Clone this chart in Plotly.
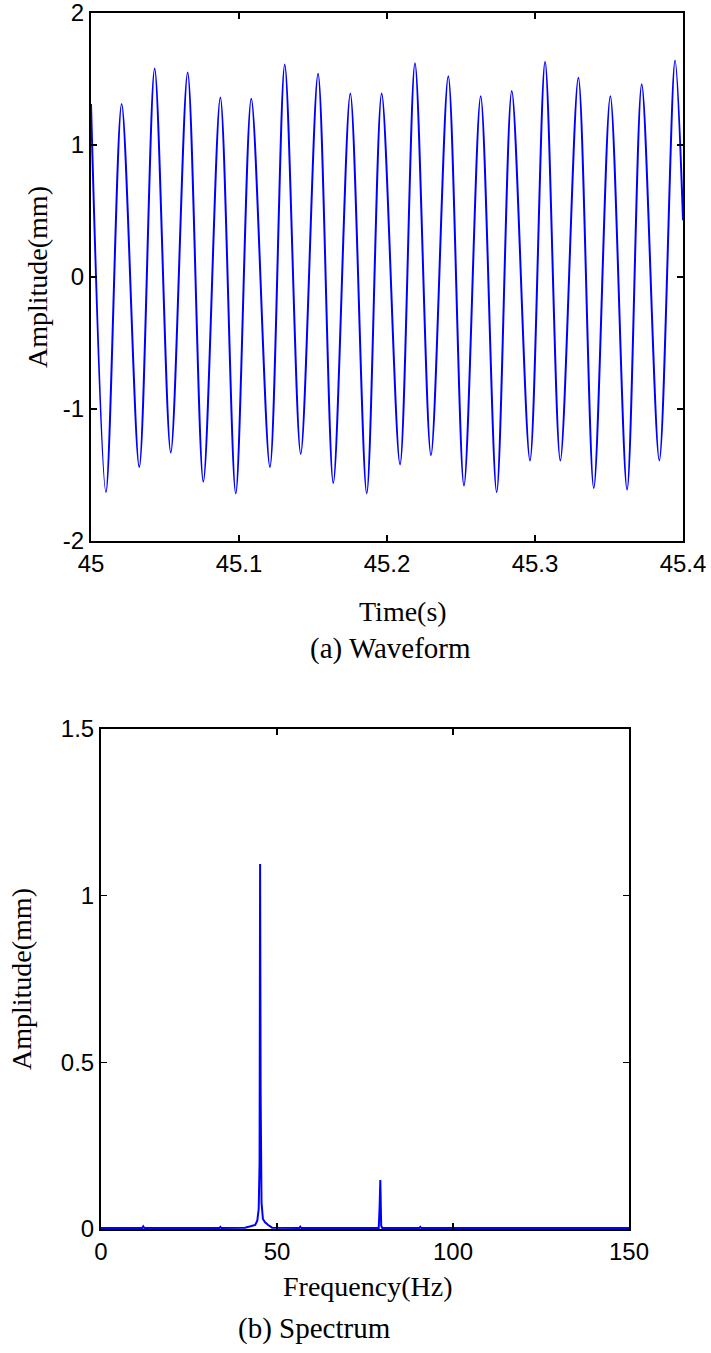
import plotly.graph_objects as go

# ---------------- data ----------------
# (a) Waveform: extrema (time s, amplitude mm)
wave_t = [45.0000, 45.0101, 45.0207, 45.0326, 45.0430, 45.0539, 45.0653, 45.0759,
          45.0874, 45.0978, 45.1083, 45.1209, 45.1309, 45.1417, 45.1534, 45.1637,
          45.1752, 45.1863, 45.1964, 45.2088, 45.2189, 45.2297, 45.2414, 45.2520,
          45.2633, 45.2741, 45.2843, 45.2966, 45.3068, 45.3171, 45.3293, 45.3397,
          45.3509, 45.3622, 45.3721, 45.3840, 45.3946, 45.4000]
wave_a = [1.31, -1.63, 1.31, -1.44, 1.58, -1.33, 1.55, -1.55,
          1.36, -1.64, 1.35, -1.44, 1.61, -1.34, 1.54, -1.56,
          1.39, -1.64, 1.39, -1.42, 1.62, -1.35, 1.52, -1.58,
          1.37, -1.63, 1.41, -1.39, 1.63, -1.39, 1.51, -1.60,
          1.37, -1.61, 1.46, -1.39, 1.64, 0.43]

# (b) Spectrum (frequency Hz, amplitude mm)
spec_f = [0, 11.7, 12.0, 12.3, 33.6, 33.9, 34.2, 40.9, 42.5, 43.8, 44.4, 44.8,
          45.05, 45.2, 45.35, 45.6, 46.0, 46.6, 47.5, 48.6, 56.3, 56.6, 56.9,
          78.9, 79.15, 79.35, 79.6, 79.9, 90.4, 90.7, 91.0, 150]
spec_a = [0.003, 0.003, 0.008, 0.003, 0.003, 0.006, 0.003, 0.004, 0.008, 0.012, 0.025, 0.06,
          0.2, 1.095, 0.41, 0.08, 0.03, 0.02, 0.012, 0.004, 0.003, 0.007, 0.003,
          0.003, 0.067, 0.147, 0.01, 0.003, 0.003, 0.006, 0.003, 0.003]

wave_xticks = [45, 45.1, 45.2, 45.3, 45.4]
wave_xlabels = ["45", "45.1", "45.2", "45.3", "45.4"]
wave_yticks = [-2, -1, 0, 1, 2]
wave_ylabels = ["-2", "-1", "0", "1", "2"]
spec_xticks = [0, 50, 100, 150]
spec_xlabels = ["0", "50", "100", "150"]
spec_yticks = [0, 0.5, 1, 1.5]
spec_ylabels = ["0", "0.5", "1", "1.5"]

# ---------------- layout helpers ----------------
W, H = 711, 1353
def px_x(p):
    return p / W
def px_y(p):
    return 1 - p / H

TICKFONT = dict(family="Liberation Sans, Arial, sans-serif", size=24, color="black")
SERIF = "Liberation Serif, Times New Roman, serif"

fig = go.Figure()
fig.add_trace(go.Scatter(x=wave_t, y=wave_a, mode="lines",
                         line=dict(color="#0000FF", width=2, shape="spline", smoothing=0.85),
                         xaxis="x", yaxis="y", showlegend=False))
fig.add_trace(go.Scatter(x=spec_f, y=spec_a, mode="lines",
                         line=dict(color="#0000FF", width=2),
                         xaxis="x2", yaxis="y2", showlegend=False))

axis_common = dict(showline=True, linecolor="black", linewidth=2, mirror="ticks",
                   ticks="inside", ticklen=6, tickwidth=1.5, tickcolor="black",
                   showgrid=False, zeroline=False, tickfont=TICKFONT, fixedrange=True,
                   automargin=False, ticklabeloverflow="allow")

fig.update_layout(
    width=W, height=H,
    margin=dict(l=0, r=0, t=0, b=0, pad=0),
    paper_bgcolor="white", plot_bgcolor="white",
    hovermode=False,
    xaxis=dict(domain=[px_x(91), px_x(683)], range=[45, 45.4], anchor="y",
               tickvals=wave_xticks, ticktext=wave_xlabels, **axis_common),
    yaxis=dict(domain=[px_y(541), px_y(13)], range=[-2, 2], anchor="x",
               tickvals=wave_yticks, ticktext=wave_ylabels, **axis_common),
    xaxis2=dict(domain=[px_x(101), px_x(629)], range=[0, 150], anchor="y2",
                tickvals=spec_xticks, ticktext=spec_xlabels, **axis_common),
    yaxis2=dict(domain=[px_y(1229), px_y(729)], range=[0, 1.5], anchor="x2",
                tickvals=spec_yticks, ticktext=spec_ylabels, **axis_common),
)

def label(text, x, y, size=28, angle=0):
    fig.add_annotation(text=text, x=px_x(x), y=px_y(y), xref="paper", yref="paper",
                       showarrow=False, textangle=angle, xanchor="center", yanchor="middle",
                       font=dict(family=SERIF, size=size, color="black"))

label("Amplitude(mm)", 37, 277, angle=-90)
label("Time(s)", 403, 611)
label("(a) Waveform", 390, 648, size=29)
label("Amplitude(mm)", 21, 979, angle=-90)
label("Frequency(Hz)", 367, 1286)
label("(b) Spectrum", 314, 1328, size=29)

fig.write_html("out.html",
               config={"displayModeBar": False, "staticPlot": True},
               post_script="document.body.style.margin='0';document.body.style.overflow='hidden';")
